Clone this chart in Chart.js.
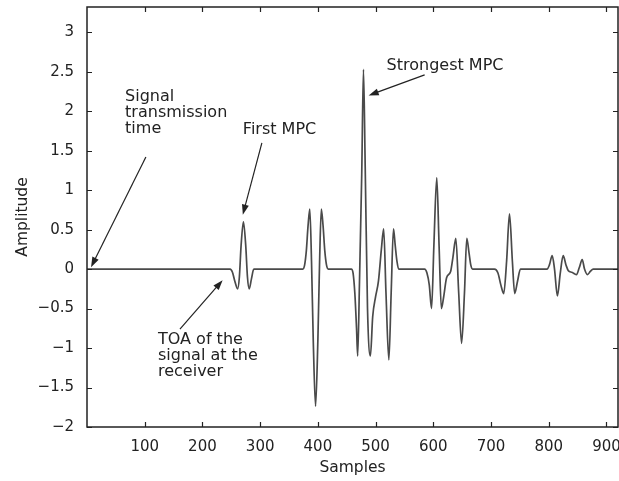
<!DOCTYPE html>
<html>
<head>
<meta charset="utf-8">
<script src="https://cdn.jsdelivr.net/npm/chart.js@4"></script>
<style>
  html, body { margin: 0; padding: 0; background: #fff; }
  #wrap { width: 619px; height: 481px; }
</style>
</head>
<body>
<div id="wrap"><canvas id="chart" width="619" height="481"></canvas></div>
<script>
/* received pulse: sample index vs amplitude */
const samples = [
  0, 248, 252, 256, 261, 264, 267, 271, 275, 278, 281, 285, 289,
  374, 377, 380, 383, 386, 389, 392, 396, 400, 403, 406, 409, 412, 415, 418,
  458, 461, 464, 467, 469, 472, 476, 479, 482, 486, 491, 495, 500, 505, 510, 514, 518, 523, 527, 531, 534, 537, 540,
  585, 589, 593, 597, 601, 606, 610, 614, 618, 623, 630, 634, 639, 644, 649, 654, 658, 662, 665, 668,
  706, 712, 717, 722, 727, 732, 737, 741, 746, 751,
  797, 801, 806, 810, 815, 820, 825, 830, 834, 840, 848, 853, 858, 862, 867, 872, 877, 920
];
const amplitude = [
  0, 0, -0.04, -0.15, -0.25, -0.1, 0.3, 0.6, 0.3, -0.1, -0.25, -0.12, 0,
  0, 0.05, 0.23, 0.55, 0.76, 0.1, -0.9, -1.74, -0.9, 0.1, 0.76, 0.55, 0.23, 0.05, 0,
  0, -0.05, -0.3, -0.75, -1.1, -0.2, 1.2, 2.53, 1.3, -0.5, -1.1, -0.6, -0.35, -0.15, 0.25, 0.51, -0.3, -1.15, -0.3, 0.51, 0.3, 0.1, 0,
  0, -0.05, -0.2, -0.5, 0.3, 1.16, 0.3, -0.5, -0.35, -0.11, -0.03, 0.15, 0.39, -0.3, -0.94, -0.3, 0.39, 0.2, 0.05, 0,
  0, -0.05, -0.2, -0.31, 0.1, 0.7, 0.1, -0.31, -0.15, 0,
  0, 0.05, 0.17, 0, -0.34, -0.05, 0.17, 0.05, -0.02, -0.04, -0.07, 0.02, 0.12, 0, -0.07, -0.03, 0, 0
];
const xTicks = [100, 200, 300, 400, 500, 600, 700, 800, 900];
const yTicks = [-2, -1.5, -1, -0.5, 0, 0.5, 1, 1.5, 2, 2.5, 3];

const FONT = '"DejaVu Sans", sans-serif';

// text labels with arrows, anchored in data units
const notes = [
  { lines: ['Signal', 'transmission', 'time'], x: 66, y: 2.18, tail: [102, 1.42], head: [7, 0.025] },
  { lines: ['First MPC'], x: 270, y: 1.77, tail: [303, 1.60], head: [270, 0.69] },
  { lines: ['Strongest MPC'], x: 519, y: 2.58, tail: [585, 2.46], head: [488, 2.2] },
  { lines: ['TOA of the', 'signal at the', 'receiver'], x: 123, y: -0.89, tail: [161, -0.76], head: [235, -0.14] }
];

const framePlugin = {
  id: 'frame',
  afterDraw(chart) {
    const { ctx, chartArea: a, scales: { x, y } } = chart;
    ctx.save();
    ctx.strokeStyle = '#222';
    ctx.lineWidth = 1.5;
    ctx.strokeRect(a.left, a.top, a.right - a.left, a.bottom - a.top);
    ctx.lineWidth = 1.2;
    ctx.beginPath();
    xTicks.forEach(v => {
      const px = Math.round(x.getPixelForValue(v)) + 0.5;
      ctx.moveTo(px, a.bottom); ctx.lineTo(px, a.bottom - 5);
      ctx.moveTo(px, a.top); ctx.lineTo(px, a.top + 5);
    });
    yTicks.forEach(v => {
      const py = Math.round(y.getPixelForValue(v)) + 0.5;
      ctx.moveTo(a.left, py); ctx.lineTo(a.left + 5, py);
      ctx.moveTo(a.right, py); ctx.lineTo(a.right - 5, py);
    });
    ctx.stroke();

    // annotations
    ctx.fillStyle = '#222';
    ctx.font = '16px ' + FONT;
    ctx.textBaseline = 'middle';
    ctx.textAlign = 'left';
    notes.forEach(n => {
      const lx = x.getPixelForValue(n.x);
      const ly = y.getPixelForValue(n.y);
      n.lines.forEach((t, i) => ctx.fillText(t, lx, ly + i * 16));
      const tx = x.getPixelForValue(n.tail[0]), ty = y.getPixelForValue(n.tail[1]);
      const hx = x.getPixelForValue(n.head[0]), hy = y.getPixelForValue(n.head[1]);
      const ang = Math.atan2(hy - ty, hx - tx);
      ctx.strokeStyle = '#222';
      ctx.lineWidth = 1.2;
      ctx.beginPath();
      ctx.moveTo(tx, ty);
      ctx.lineTo(hx - 8 * Math.cos(ang), hy - 8 * Math.sin(ang));
      ctx.stroke();
      ctx.beginPath();
      ctx.moveTo(hx, hy);
      ctx.lineTo(hx - 10 * Math.cos(ang) + 3.5 * Math.sin(ang), hy - 10 * Math.sin(ang) - 3.5 * Math.cos(ang));
      ctx.lineTo(hx - 10 * Math.cos(ang) - 3.5 * Math.sin(ang), hy - 10 * Math.sin(ang) + 3.5 * Math.cos(ang));
      ctx.closePath();
      ctx.fill();
    });
    ctx.restore();
  }
};

const noPad = s => { s.paddingTop = 0; s.paddingBottom = 0; s.paddingLeft = 0; s.paddingRight = 0; };

new Chart(document.getElementById('chart'), {
  type: 'line',
  data: {
    datasets: [{
      data: samples.map((s, i) => ({ x: s, y: amplitude[i] })),
      borderColor: '#4a4a4a',
      borderWidth: 1.7,
      pointRadius: 0,
      cubicInterpolationMode: 'monotone',
      fill: false
    }]
  },
  options: {
    responsive: false,
    animation: false,
    layout: { padding: { top: 7, right: 1, left: 0, bottom: 0 } },
    plugins: { legend: { display: false }, tooltip: { enabled: false } },
    scales: {
      x: {
        type: 'linear', min: 0, max: 920,
        afterFit: s => { s.height = 54; noPad(s); },
        afterBuildTicks: s => { s.ticks = xTicks.map(v => ({ value: v })); },
        grid: { display: false }, border: { display: false },
        ticks: { color: '#222', font: { family: FONT, size: 15 }, padding: 3, maxRotation: 0 },
        title: { display: true, text: 'Samples', color: '#222', font: { family: FONT, size: 15.5 }, padding: { top: 0, bottom: 4 } }
      },
      y: {
        type: 'linear', min: -2, max: 3.32,
        afterFit: s => { s.width = 87; noPad(s); },
        afterBuildTicks: s => { s.ticks = yTicks.map(v => ({ value: v })); },
        grid: { display: false }, border: { display: false },
        ticks: {
          color: '#222', font: { family: FONT, size: 15 }, padding: 5,
          callback: v => v < 0 ? '\u2212' + Math.abs(v) : String(v)
        },
        title: { display: true, text: 'Amplitude', color: '#222', font: { family: FONT, size: 15.5 }, padding: { top: 14, bottom: 0 } }
      }
    }
  },
  plugins: [framePlugin]
});
</script>
</body>
</html>
